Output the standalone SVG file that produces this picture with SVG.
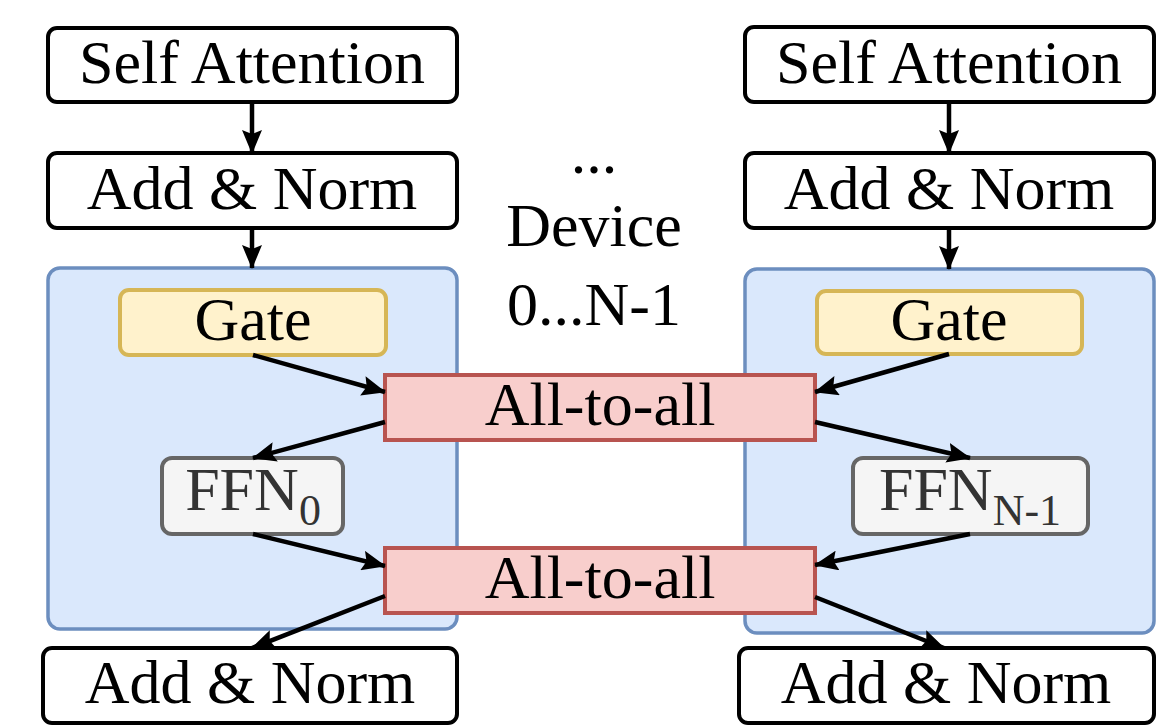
<svg xmlns="http://www.w3.org/2000/svg" width="1173" height="725" viewBox="0 0 1173 725">
<style>
text{font-family:'Liberation Serif','Times New Roman',serif;font-size:62px;fill:#000;text-anchor:middle}
.plain{fill:#fff;stroke:#000;stroke-width:4}
.moe{fill:#dae8fc;stroke:#6c8ebf;stroke-width:3.5}
.gate{fill:#fff2cc;stroke:#d6b656;stroke-width:4}
.a2a{fill:#f8cecc;stroke:#b85450;stroke-width:4}
.ffn{fill:#f5f5f5;stroke:#666;stroke-width:4}
text.ffnt{fill:#333}
.conn{stroke:#000;stroke-width:4.5;fill:none;marker-end:url(#ah)}
</style>
<defs>
<marker id="ah" markerUnits="userSpaceOnUse" markerWidth="24" markerHeight="20" viewBox="0 0 24 20" refX="23" refY="10" orient="auto">
<path d="M0,0 L24,10 L0,20 L4,10 Z" fill="#000"/>
</marker>
</defs>
<g id="moe-left"><rect class="moe" x="48" y="268" width="409" height="361" rx="12"/></g>
<g id="moe-right"><rect class="moe" x="745" y="269" width="409" height="364" rx="12"/></g>
<g id="sa-left"><rect class="plain" x="48" y="28" width="409" height="74" rx="9"/><text x="252" y="83">Self Attention</text></g>
<g id="an1-left"><rect class="plain" x="48" y="153" width="409" height="75" rx="9"/><text x="252" y="209">Add &amp; Norm</text></g>
<g id="gate-left"><rect class="gate" x="120" y="290" width="266" height="65" rx="9"/><text x="253" y="340">Gate</text></g>
<g id="ffn-left"><rect class="ffn" x="162" y="458" width="181" height="76" rx="10"/><text class="ffnt" x="253" y="510"><tspan>FFN</tspan><tspan dy="15" font-size="44">0</tspan></text></g>
<g id="an2-left"><rect class="plain" x="43" y="648" width="414" height="75" rx="9"/><text x="250" y="703">Add &amp; Norm</text></g>
<g id="sa-right"><rect class="plain" x="745" y="27" width="409" height="75" rx="9"/><text x="949" y="83">Self Attention</text></g>
<g id="an1-right"><rect class="plain" x="745" y="153" width="409" height="75" rx="9"/><text x="949" y="209">Add &amp; Norm</text></g>
<g id="gate-right"><rect class="gate" x="817" y="291" width="265" height="63" rx="9"/><text x="949" y="340">Gate</text></g>
<g id="ffn-right"><rect class="ffn" x="853" y="458" width="235" height="76" rx="10"/><text class="ffnt" x="970" y="510"><tspan>FFN</tspan><tspan dy="15" font-size="44">N-1</tspan></text></g>
<g id="an2-right"><rect class="plain" x="739" y="648" width="415" height="75" rx="9"/><text x="946" y="703">Add &amp; Norm</text></g>
<g id="a2a-top"><rect class="a2a" x="385" y="375" width="430" height="65"/><text x="600" y="425">All-to-all</text></g>
<g id="a2a-bottom"><rect class="a2a" x="385" y="548" width="430" height="65"/><text x="600" y="598">All-to-all</text></g>
<g id="devices"><text x="594" y="173">...</text><text x="594" y="246">Device</text><text x="594" y="325">0...N-1</text></g>
<g id="connectors">
<line class="conn" x1="252" y1="102" x2="252" y2="153"/>
<line class="conn" x1="252" y1="228" x2="252" y2="268"/>
<line class="conn" x1="949" y1="102" x2="949" y2="153"/>
<line class="conn" x1="949" y1="228" x2="949" y2="269"/>
<line class="conn" x1="253" y1="355" x2="385" y2="392"/>
<line class="conn" x1="385" y1="422" x2="253" y2="458"/>
<line class="conn" x1="253" y1="534" x2="385" y2="566"/>
<line class="conn" x1="385" y1="596" x2="252" y2="648"/>
<line class="conn" x1="949" y1="354" x2="815" y2="392"/>
<line class="conn" x1="815" y1="422" x2="970" y2="458"/>
<line class="conn" x1="970" y1="534" x2="815" y2="565"/>
<line class="conn" x1="815" y1="597" x2="944" y2="648"/>
</g>
</svg>
